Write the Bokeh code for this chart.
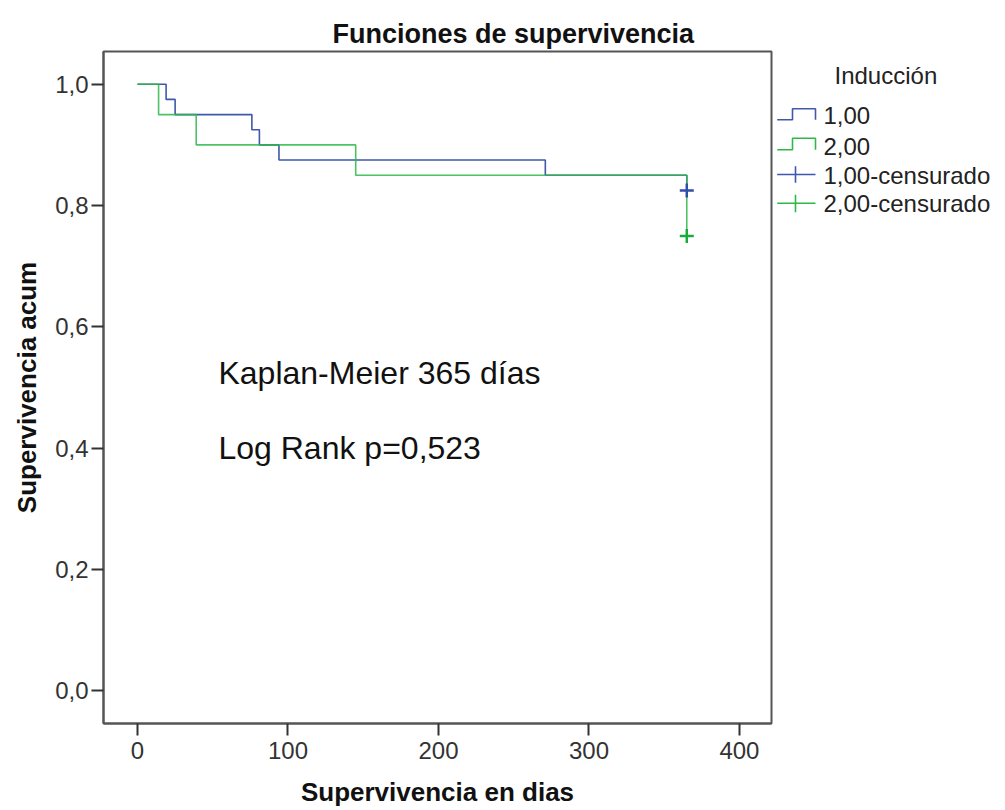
from bokeh.plotting import figure
from bokeh.models import Range1d, FixedTicker, Label
from bokeh.layouts import row
from bokeh.core.properties import value
from bokeh.embed import file_html
from bokeh.resources import INLINE

# ---------------- data ----------------
group1_time = [0, 19, 25, 76, 81, 94, 271, 365]
group1_surv = [1.0, 0.975, 0.95, 0.925, 0.90, 0.875, 0.85, 0.825]
group1_cens_time = [365]
group1_cens_surv = [0.825]

group2_time = [0, 14, 39, 145, 365]
group2_surv = [1.0, 0.95, 0.90, 0.85, 0.75]
group2_cens_time = [365]
group2_cens_surv = [0.75]

x_ticks = [0, 100, 200, 300, 400]
y_ticks = [0.0, 0.2, 0.4, 0.6, 0.8, 1.0]
y_tick_labels = ["0,0", "0,2", "0,4", "0,6", "0,8", "1,0"]

legend_title = "Inducción"
legend_labels = ["1,00", "2,00", "1,00-censurado", "2,00-censurado"]

title_text = "Funciones de supervivencia"
x_label = "Supervivencia en dias"
y_label = "Supervivencia acum"
note1 = "Kaplan-Meier 365 días"
note2 = "Log Rank p=0,523"

BLUE = "#3e58ac"
GREEN = "#2eb848"
FONT = "Liberation Sans"

# ---------------- layout constants (page pixels) ----------------
W_TOTAL = 1005
H = 810
FRAME_L, FRAME_R, FRAME_T, FRAME_B = 103, 771, 51, 723
P_W = FRAME_R + 2

# ---------------- main plot ----------------
p = figure(width=P_W, height=H, output_backend="svg", toolbar_location=None,
           x_range=Range1d(-22.6, 421.3), y_range=Range1d(-0.054, 1.054),
           min_border_left=FRAME_L, min_border_right=P_W - FRAME_R,
           min_border_top=FRAME_T, min_border_bottom=H - FRAME_B)
p.title.text = title_text
p.title.text_font = FONT
p.title.text_font_size = "27px"
p.title.text_font_style = "bold"
p.title.text_color = "#111111"
p.title.align = "left"
p.title.offset = 229
p.title.standoff = 6

p.xgrid.visible = False
p.ygrid.visible = False
p.background_fill_color = "white"
p.border_fill_color = "white"
p.outline_line_color = "#555555"
p.outline_line_width = 2

for ax in (p.xaxis[0], p.yaxis[0]):
    ax.axis_line_color = "#555555"
    ax.axis_line_width = 2
    ax.major_tick_line_color = "#333333"
    ax.major_tick_line_width = 2
    ax.major_tick_out = 12
    ax.major_tick_in = 0
    ax.minor_tick_line_color = None
    ax.major_label_text_font = FONT
    ax.major_label_text_font_size = "24px"
    ax.major_label_text_color = "#333333"
    ax.axis_label_text_font = FONT
    ax.axis_label_text_font_size = "26px"
    ax.axis_label_text_font_style = "bold"
    ax.axis_label_text_color = "#111111"

p.xaxis.ticker = FixedTicker(ticks=x_ticks)
p.yaxis.ticker = FixedTicker(ticks=y_ticks)
p.yaxis.major_label_overrides = {t: l for t, l in zip(y_ticks, y_tick_labels)}
p.xaxis.axis_label = x_label
p.yaxis.axis_label = y_label
p.xaxis.major_label_standoff = 6
p.yaxis.major_label_standoff = 3
p.xaxis.axis_label_standoff = 15
p.yaxis.axis_label_standoff = 10

p.step(group1_time, group1_surv, mode="after", line_color=BLUE, line_width=1.6)
p.step(group2_time, group2_surv, mode="after", line_color=GREEN, line_width=1.6,
       line_alpha=0.85)
p.scatter(group1_cens_time, group1_cens_surv, marker="cross", size=14,
          line_color="#2f4fa8", line_width=2.5)
p.scatter(group2_cens_time, group2_cens_surv, marker="cross", size=14,
          line_color="#1aaa3a", line_width=2.5)

p.add_layout(Label(x=53.8, y=0.524, text=note1, text_font=FONT,
                   text_font_size="32px", text_color="#111111",
                   text_baseline="alphabetic"))
p.add_layout(Label(x=53.8, y=0.401, text=note2, text_font=FONT,
                   text_font_size="32px", text_color="#111111",
                   text_baseline="alphabetic"))

# ---------------- legend panel (coordinates in page pixels) ----------------
LW = W_TOTAL - P_W
q = figure(width=LW, height=H, output_backend="svg", toolbar_location=None,
           x_range=Range1d(P_W, W_TOTAL), y_range=Range1d(FRAME_B, FRAME_T),
           min_border_left=0, min_border_right=0,
           min_border_top=FRAME_T, min_border_bottom=H - FRAME_B,
           x_axis_location=None, y_axis_location=None)
q.xgrid.visible = False
q.ygrid.visible = False
q.outline_line_color = None
q.background_fill_color = "white"
q.border_fill_color = "white"

row_y = [114.7, 146, 175, 203.3]
text_x = 823
q.text(x=[834], y=[75], text=[legend_title], text_font=value(FONT),
       text_font_size="24px", text_color="#222222", text_baseline="middle")
q.text(x=[text_x] * 4, y=row_y, text=legend_labels, text_font=value(FONT),
       text_font_size="24px", text_color="#222222", text_baseline="middle")

# step icons
q.line([776.7, 792, 792, 815, 815], [119.3, 119.3, 108.3, 108.3, 119.3],
       line_color=BLUE, line_width=1.6)
q.line([776.7, 792, 792, 815, 815], [149.3, 149.3, 137.7, 137.7, 149.3],
       line_color=GREEN, line_width=1.6)
# censored icons
q.line([776.7, 815], [174, 174], line_color=BLUE, line_width=1.6)
q.line([795, 795], [165.7, 182.3], line_color=BLUE, line_width=1.6)
q.line([776.7, 815], [202.7, 202.7], line_color=GREEN, line_width=1.6)
q.line([795, 795], [194.3, 211.7], line_color=GREEN, line_width=1.6)

layout = row(p, q)
open("out.html", "w").write(file_html(layout, INLINE))
